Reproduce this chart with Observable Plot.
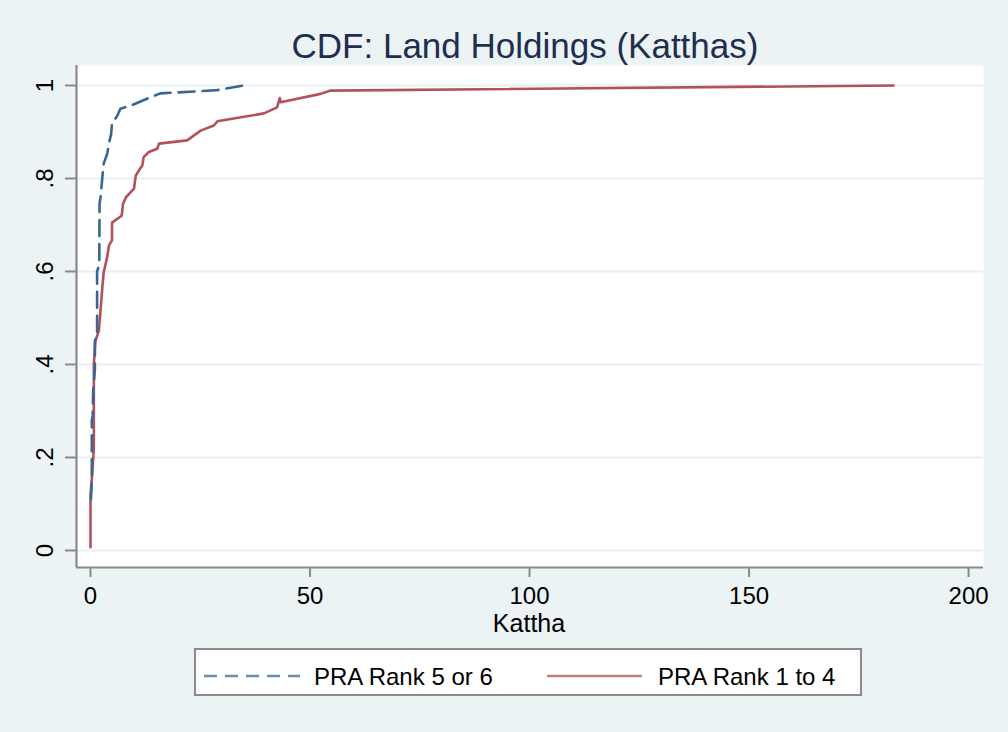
<!DOCTYPE html>
<html>
<head>
<meta charset="utf-8">
<script src="https://cdn.jsdelivr.net/npm/d3@7"></script>
<script src="https://cdn.jsdelivr.net/npm/@observablehq/plot@0.6"></script>
<style>
  html, body { margin: 0; padding: 0; }
  body { width: 1008px; height: 732px; background: #ebf3f5; position: relative; overflow: hidden;
         font-family: "Liberation Sans", Arial, sans-serif; }
  #chart { position: absolute; left: 0; top: 0; }
  .title { position: absolute; left: 0; width: 1050px; top: 28px; text-align: center;
           font-size: 35px; line-height: 1; color: #1f2d4f; }
  .xlabel { position: absolute; left: 0; width: 1058px; top: 614px; text-align: center;
            font-size: 25px; line-height: 0.75; color: #000; }
  #legend { position: absolute; left: 0; top: 0; }
</style>
</head>
<body>
<div id="chart"></div>
<div class="title">CDF: Land Holdings (Katthas)</div>
<div class="xlabel">Kattha</div>
<svg id="legend" width="1008" height="732"></svg>
<script>
// ---- Data ----
const seriesNames = ["PRA Rank 5 or 6", "PRA Rank 1 to 4"];

const blueKattha = [0.1, 0.3, 0.3, 0.5, 0.6, 1.0, 1.0, 1.5, 1.5, 2.0, 2.05, 2.3, 2.7, 3.0, 3.8, 4.2, 4.7, 4.9, 6.1, 6.8, 9.5, 13.7, 15.9, 28.8, 34.8];
const blueCdf    = [0.11, 0.15, 0.28, 0.29, 0.34, 0.39, 0.45, 0.47, 0.60, 0.615, 0.745, 0.76, 0.803, 0.832, 0.853, 0.875, 0.896, 0.918, 0.935, 0.95, 0.958, 0.975, 0.983, 0.99, 1.0];

const redKattha = [0, 0, 0.4, 0.76, 0.76, 1.1, 1.9, 2.1, 2.4, 2.7, 3.0, 3.8, 4.2, 4.9, 4.9, 7.1, 7.4, 8.1, 9.9, 10.3, 11.0, 11.8, 12.1, 13.3, 15.2, 15.6, 22.0, 25.1, 28.1, 28.9, 39.5, 42.5, 43.1, 43.3, 52.4, 54.7, 182.9];
const redCdf    = [0.007, 0.12, 0.165, 0.222, 0.40, 0.45, 0.473, 0.495, 0.53, 0.566, 0.598, 0.631, 0.656, 0.667, 0.705, 0.72, 0.745, 0.76, 0.778, 0.806, 0.817, 0.828, 0.846, 0.857, 0.864, 0.875, 0.882, 0.903, 0.914, 0.923, 0.94, 0.953, 0.973, 0.964, 0.982, 0.989, 1.0];

const xTicks = [0, 50, 100, 150, 200];
const yTicks = [0, 0.2, 0.4, 0.6, 0.8, 1];
const yTickLabels = ["0", ".2", ".4", ".6", ".8", "1"];

// ---- Styles ----
const blueColor = "#3a6792";
const redColor = "#b3505a";
const axisColor = "#8a8a8a";
const gridColor = "#e6eff2";
const dash = "16,8";

const blueData = blueKattha.map((x, i) => ({x, y: blueCdf[i]}));
const redData = redKattha.map((x, i) => ({x, y: redCdf[i]}));
const xDomain = [-3.19, 203.4];
const yDomain = [-0.0366, 1.043];

const plot = Plot.plot({
  width: 1008,
  height: 640,
  marginLeft: 76,
  marginRight: 25,
  marginTop: 65,
  marginBottom: 73,
  style: {background: "transparent", fontFamily: "'Liberation Sans', Arial, sans-serif", overflow: "visible"},
  x: {domain: xDomain},
  y: {domain: yDomain},
  marks: [
    Plot.frame({fill: "white", stroke: null}),
    Plot.ruleY(yTicks, {stroke: gridColor, strokeWidth: 2}),
    Plot.line(redData, {x: "x", y: "y", stroke: redColor, strokeWidth: 2.6, strokeLinejoin: "round"}),
    Plot.line(blueData, {x: "x", y: "y", stroke: blueColor, strokeWidth: 2.6, strokeDasharray: dash}),
    Plot.ruleX([xDomain[0]], {stroke: axisColor, strokeWidth: 2.2}),
    Plot.ruleY([yDomain[0]], {stroke: axisColor, strokeWidth: 2.2}),
    Plot.axisX(xTicks, {tickSize: 10, tickPadding: 9, fontSize: 24, stroke: axisColor, strokeWidth: 2, fill: "#000", label: null, tickFormat: d => String(d)}),
    Plot.axisY(yTicks, {tickSize: 11, tickFormat: () => "", stroke: axisColor, strokeWidth: 2, label: null}),
    Plot.text(yTicks, {x: xDomain[0], y: d => d, text: (d, i) => yTickLabels[i], rotate: -90, dx: -24,
      textAnchor: "middle", lineAnchor: "bottom", fontSize: 24, fill: "#000"})
  ]
});
document.getElementById("chart").appendChild(plot);

// ---- Legend ----
const lg = d3.select("#legend");
lg.append("rect").attr("x", 195).attr("y", 649).attr("width", 666).attr("height", 46)
  .attr("fill", "white").attr("stroke", axisColor).attr("stroke-width", 2);
lg.append("line").attr("x1", 204).attr("x2", 300).attr("y1", 676).attr("y2", 676)
  .attr("stroke", "#6b8cab").attr("stroke-width", 2.4).attr("stroke-dasharray", "13,8");
lg.append("text").attr("x", 314).attr("y", 685).attr("font-size", 24).attr("fill", "#000")
  .attr("font-family", "'Liberation Sans', Arial, sans-serif").text(seriesNames[0]);
lg.append("line").attr("x1", 547).attr("x2", 642).attr("y1", 676).attr("y2", 676)
  .attr("stroke", "#c27c80").attr("stroke-width", 2.4);
lg.append("text").attr("x", 658).attr("y", 685).attr("font-size", 24).attr("fill", "#000")
  .attr("font-family", "'Liberation Sans', Arial, sans-serif").text(seriesNames[1]);
</script>
</body>
</html>
